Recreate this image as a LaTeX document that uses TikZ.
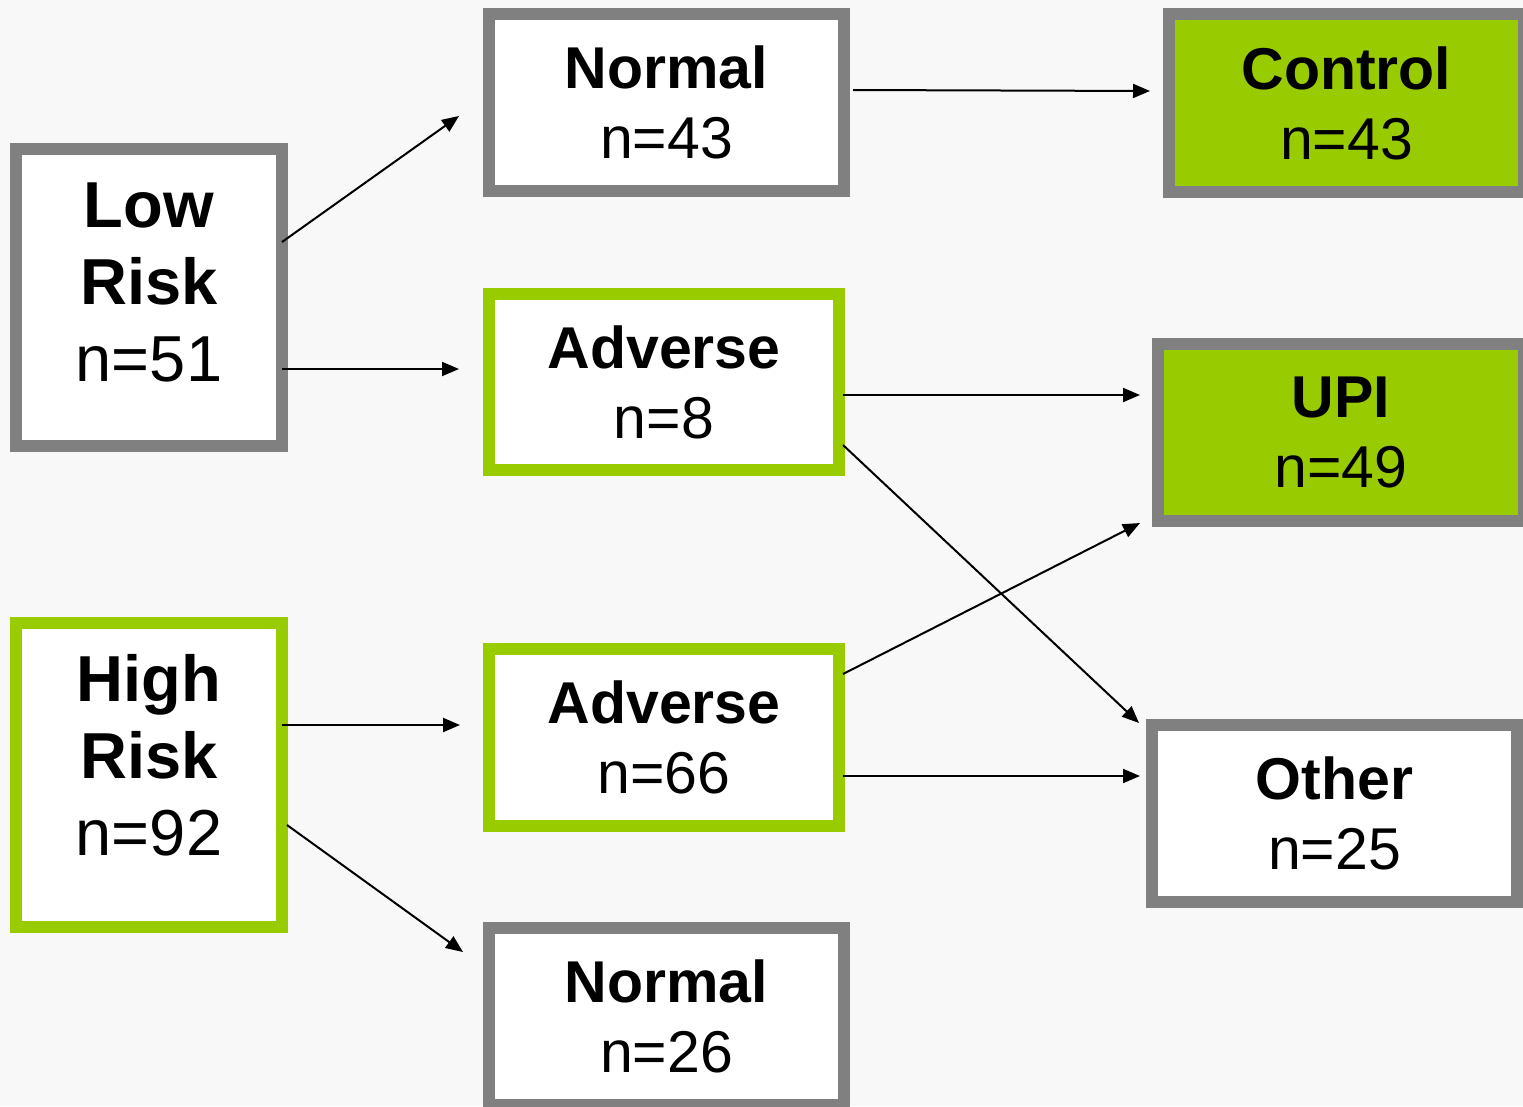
\documentclass[tikz,border=0pt]{standalone}
\usepackage{fontspec}
\setmainfont{Liberation Sans}
\usetikzlibrary{arrows.meta}
\definecolor{bgc}{HTML}{F8F8F8}
\definecolor{boxgray}{HTML}{808080}
\definecolor{boxgreen}{HTML}{99CC00}
\begin{document}
\begin{tikzpicture}[x=1pt,y=-1pt,
  basebox/.style={rectangle, line width=12pt, inner sep=0pt, outer sep=0pt, align=center,
    font=\fontsize{59}{70}\selectfont},
  graybox/.style={basebox, draw=boxgray, fill=white},
  greenbox/.style={basebox, draw=boxgreen, fill=white},
  resultbox/.style={basebox, draw=boxgray, fill=boxgreen},
  risktext/.style={align=center, inner sep=0pt, font=\fontsize{65}{77}\selectfont},
  arr/.style={line width=2pt, -{Triangle[length=17pt,width=14pt]}}
]
\clip (0,0) rectangle (1523,1106);
\fill[bgc] (0,0) rectangle (1523,1106);

% left column
\node[graybox, minimum width=266pt, minimum height=297pt] (low) at (149,297.5) {};
\node[risktext] (lowtxt) at ([yshift=15.5pt]low.center) {\textbf{Low}\\\textbf{Risk}\\n=51};
\node[greenbox, minimum width=266pt, minimum height=304pt] (high) at (149,775) {};
\node[risktext] (hightxt) at ([yshift=20pt]high.center) {\textbf{High}\\\textbf{Risk}\\n=92};

% middle column
\node[graybox, minimum width=355pt, minimum height=177pt] (norm1) at (666.5,102.5) {\textbf{Normal}\\n=43};
\node[greenbox, minimum width=350pt, minimum height=176pt] (adv1) at (664,382) {\textbf{Adverse}\\n=8};
\node[greenbox, minimum width=350pt, minimum height=177pt] (adv2) at (664,737.5) {\textbf{Adverse}\\n=66};
\node[graybox, minimum width=355pt, minimum height=177pt] (norm2) at (666.5,1016.5) {\textbf{Normal}\\n=26};

% right column
\node[resultbox, minimum width=355pt, minimum height=178pt] (ctrl) at (1346.5,103) {\textbf{Control}\\n=43};
\node[resultbox, minimum width=366pt, minimum height=177pt] (upi) at (1341,432.5) {\textbf{UPI}\\n=49};
\node[graybox, minimum width=365pt, minimum height=177pt] (other) at (1334.5,813.5) {\textbf{Other}\\n=25};

% connectors
\draw[arr] ([yshift=55.5pt]low.east) -- ([xshift=-30pt,yshift=-13.5pt]norm1.west);
\draw[arr] ([yshift=-71.5pt]low.east) -- ([xshift=-30pt,yshift=13pt]adv1.west);
\draw[arr] ([xshift=9pt,yshift=12.5pt]norm1.east) -- ([xshift=-19pt,yshift=12pt]ctrl.west);
\draw[arr] ([xshift=4pt,yshift=-13pt]adv1.east) -- ([xshift=-18pt,yshift=37.5pt]upi.west);
\draw[arr] ([xshift=4pt,yshift=-63pt]adv1.east) -- ([xshift=-13pt,yshift=90.5pt]other.west);
\draw[arr] ([xshift=4pt,yshift=63.5pt]adv2.east) -- ([xshift=-18pt,yshift=-90.5pt]upi.west);
\draw[arr] ([xshift=4pt,yshift=-38.5pt]adv2.east) -- ([xshift=-12pt,yshift=37.5pt]other.west);
\draw[arr] ([yshift=50pt]high.east) -- ([xshift=-29pt,yshift=12.5pt]adv2.west);
\draw[arr] ([xshift=5pt,yshift=-50pt]high.east) -- ([xshift=-26pt,yshift=64.5pt]norm2.west);
\end{tikzpicture}
\end{document}
